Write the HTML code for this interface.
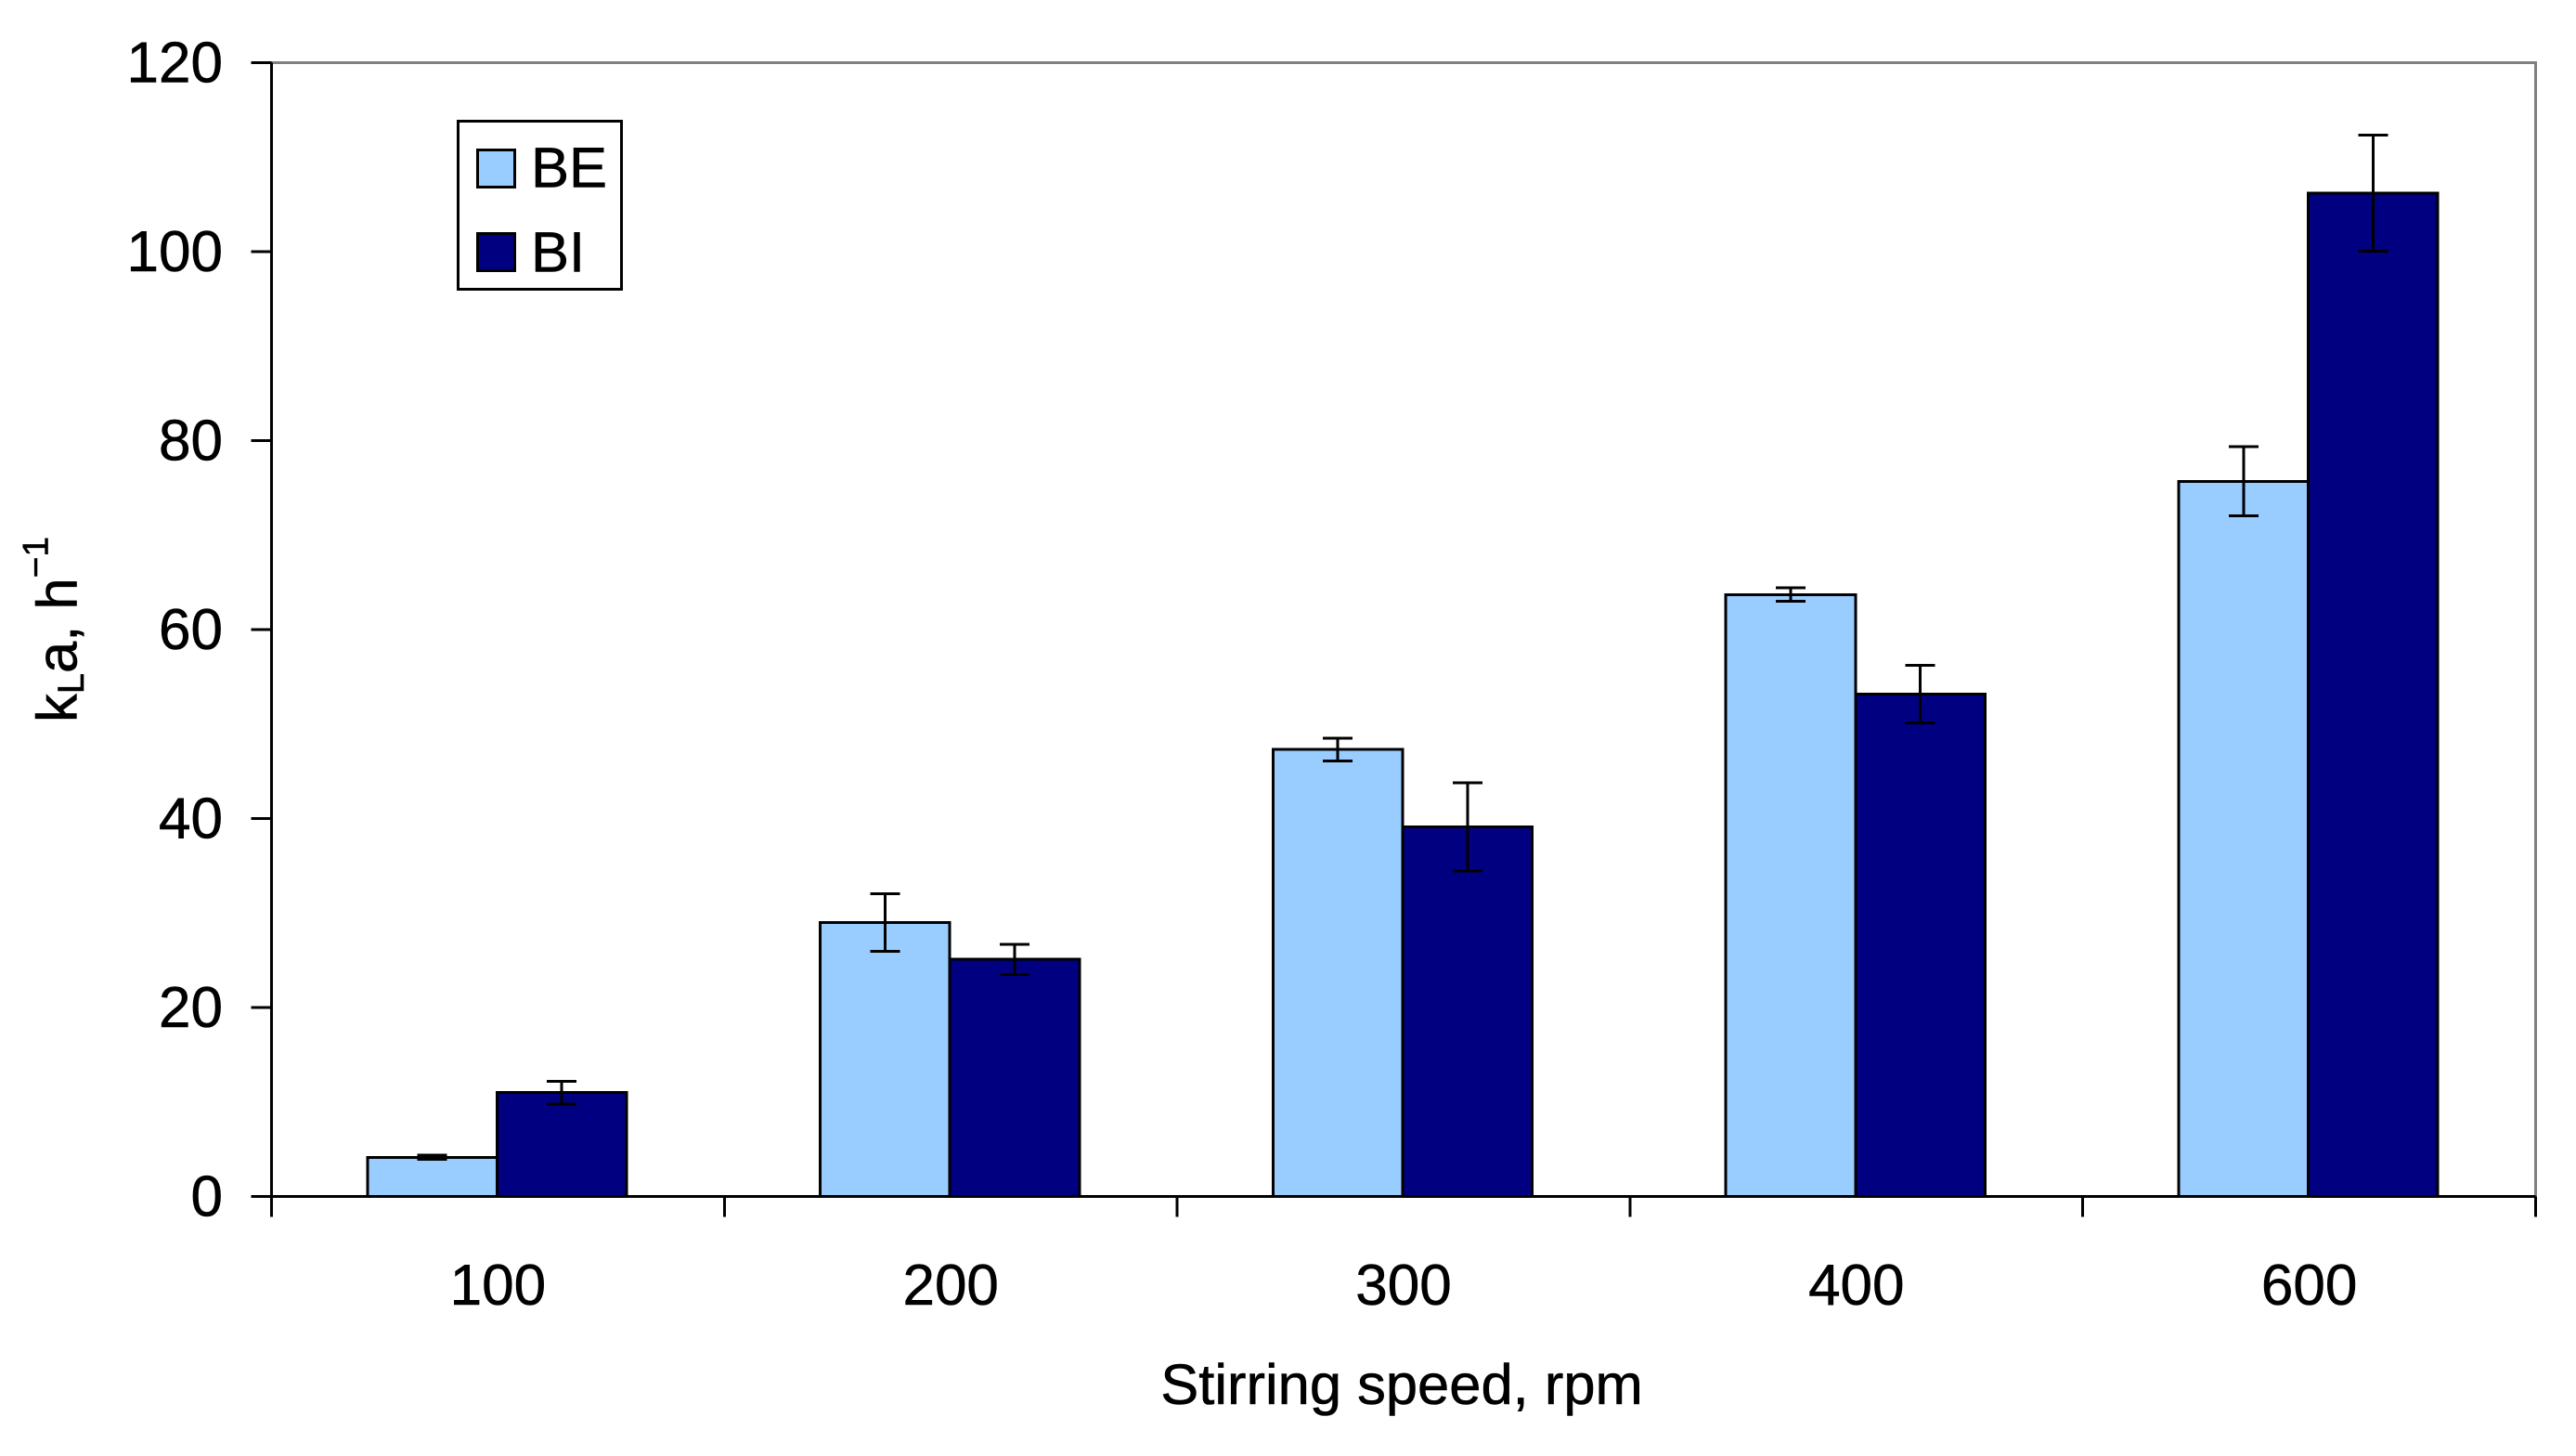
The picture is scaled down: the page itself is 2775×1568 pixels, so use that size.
<!DOCTYPE html>
<html lang="en">
<head>
<meta charset="utf-8">
<title>kLa versus stirring speed</title>
<style>
html,body{margin:0;padding:0;background:#fff;width:2775px;height:1568px;overflow:hidden}
svg{display:block;font-family:"Liberation Sans",Arial,sans-serif;fill:#000}
text{fill:#000;stroke:#000;stroke-width:0.6px}
</style>
</head>
<body>
<svg id="chart" xmlns="http://www.w3.org/2000/svg" width="2775" height="1568" viewBox="0 0 2775 1568">
  <rect x="0" y="0" width="2775" height="1568" fill="#ffffff"/>
  <path d="M292.5 67.5H2731.5V1288.5" fill="none" stroke="#808080" stroke-width="3" shape-rendering="crispEdges"/>
  <g id="bars"></g>
  <g id="errors"></g>
  <g id="axes" shape-rendering="crispEdges"></g>
  <g id="labels" font-size="62"></g>
  <text x="1510" y="1512" font-size="61.5" text-anchor="middle">Stirring speed, rpm</text>
  <text transform="translate(82.7,778) rotate(-90)" font-size="61.5">k<tspan font-size="40" dy="7.3">L</tspan><tspan dy="-7.3">a, h</tspan><tspan font-size="39" dy="-31">−1</tspan></text>
  <g>
    <rect x="493.5" y="130.5" width="176" height="181" fill="#ffffff" stroke="#000" stroke-width="3" shape-rendering="crispEdges"/>
    <rect x="514.5" y="161.5" width="40" height="40" fill="#99ccff" stroke="#000" stroke-width="3" shape-rendering="crispEdges"/>
    <text x="572" y="201.5" font-size="61.5">BE</text>
    <rect x="514.5" y="251.5" width="40" height="40" fill="#000080" stroke="#000" stroke-width="3" shape-rendering="crispEdges"/>
    <text x="572" y="292.5" font-size="61.5">BI</text>
  </g>
</svg>
<script>
const categories = ["100", "200", "300", "400", "600"];
const valuesBE = [4.15, 29.0, 47.3, 63.7, 75.7];
const valuesBI = [11.0, 25.1, 39.1, 53.15, 106.2];
const errorsBE = [0.2, 3.05, 1.2, 0.7, 3.65];
const errorsBI = [1.2, 1.6, 4.67, 3.05, 6.15];
const yTicks = [0, 20, 40, 60, 80, 100, 120];

const NS = "http://www.w3.org/2000/svg";
const plotLeft = 292.5, plotRight = 2731.5, plotTop = 67.5, plotBottom = 1288.5;
const yMax = 120;
const step = (plotRight - plotLeft) / categories.length;
const barWidth = 139.6;
const capWidth = 32;

function yScale(v) { return plotBottom - (v / yMax) * (plotBottom - plotTop); }
function xEdge(i) { return plotLeft + step * i; }
function xCenter(i) { return xEdge(i) + step / 2 - 1; }

function make(tag, parent, attrs) {
  const el = document.createElementNS(NS, tag);
  for (const k in attrs) el.setAttribute(k, attrs[k]);
  parent.appendChild(el);
  return el;
}

const barsG = document.getElementById("bars");
const errG = document.getElementById("errors");
const axesG = document.getElementById("axes");
const labelsG = document.getElementById("labels");

function drawSeries(values, errors, offset, color, key) {
  values.forEach(function (v, i) {
    const left = xCenter(i) + offset * barWidth;
    const bar = make("rect", barsG, {
      x: left, y: yScale(v), width: barWidth, height: plotBottom - yScale(v),
      fill: color, stroke: "#000", "stroke-width": 3, "shape-rendering": "crispEdges"
    });
    
    

    const cx = left + barWidth / 2;
    const hi = yScale(v + errors[i]);
    const lo = yScale(v - errors[i]);
    const err = make("path", errG, {
      d: "M" + (cx - capWidth / 2) + " " + hi + "H" + (cx + capWidth / 2) +
         "M" + cx + " " + hi + "V" + lo +
         "M" + (cx - capWidth / 2) + " " + lo + "H" + (cx + capWidth / 2),
      fill: "none", stroke: "#000", "stroke-width": 3, "shape-rendering": "crispEdges"
    });
    
    
  });
}
drawSeries(valuesBE, errorsBE, -1, "#99ccff", "be");
drawSeries(valuesBI, errorsBI, 0, "#000080", "bi");

const yAxis = make("line", axesG, { x1: plotLeft, x2: plotLeft, y1: plotTop, y2: plotBottom + 22, stroke: "#000", "stroke-width": 3 });


const xAxis = make("line", axesG, { x1: plotLeft, x2: plotRight, y1: plotBottom, y2: plotBottom, stroke: "#000", "stroke-width": 3 });



yTicks.forEach(function (t) {
  const y = yScale(t);
  const tick = make("line", axesG, { x1: plotLeft - 22, x2: plotLeft, y1: y, y2: y, stroke: "#000", "stroke-width": 3 });
  
  
  const label = make("text", labelsG, { x: 240, y: y + 21, "text-anchor": "end" });
  label.textContent = String(t);
  
  
});

for (let i = 0; i <= categories.length; i++) {
  const x = xEdge(i);
  const tick = make("line", axesG, { x1: x, x2: x, y1: plotBottom, y2: plotBottom + 22, stroke: "#000", "stroke-width": 3 });
  
  
}

categories.forEach(function (c, i) {
  const label = make("text", labelsG, { x: xCenter(i) + 1, y: 1405, "text-anchor": "middle" });
  label.textContent = c;
  
  
});
</script>
</body>
</html>
